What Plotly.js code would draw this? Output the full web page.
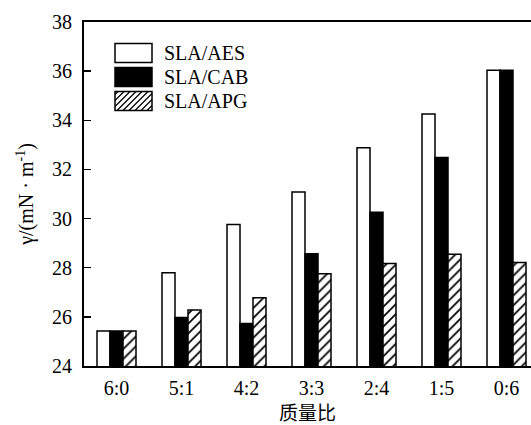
<!DOCTYPE html>
<html>
<head>
<meta charset="utf-8">
<script src="https://cdn.plot.ly/plotly-3.0.1.min.js"></script>
<style>html,body{margin:0;padding:0;background:#fff;}#chart{width:531px;height:425px;}</style>
</head>
<body>
<div id="chart"></div>
<script>
const categories = ['6:0', '5:1', '4:2', '3:3', '2:4', '1:5', '0:6'];
const seriesNames = ['SLA/AES', 'SLA/CAB', 'SLA/APG'];
const aes = [25.42, 27.8, 29.76, 31.08, 32.88, 34.26, 36.04];
const cab = [25.42, 25.97, 25.73, 28.57, 30.26, 32.49, 36.04];
const apg = [25.42, 26.28, 26.78, 27.75, 28.17, 28.55, 28.21];
const yTicks = [24, 26, 28, 30, 32, 34, 36, 38];

const serif = 'Liberation Serif, Times New Roman, serif';
const cjk = 'Noto Sans CJK SC, sans-serif';

const line = {color: '#000', width: 1.5};
const traces = [
  {type: 'bar', name: seriesNames[0], x: categories, y: aes,
   marker: {color: '#fff', line: line}},
  {type: 'bar', name: seriesNames[1], x: categories, y: cab,
   marker: {color: '#000', line: line}},
  {type: 'bar', name: seriesNames[2], x: categories, y: apg,
   marker: {color: '#fff', line: line,
     pattern: {shape: '/', fgcolor: '#000', bgcolor: '#fff', size: 7, solidity: 0.25}}}
];

// custom legend (pixel geometry of the plot area: x 84..531, y 22..366)
const L = 84, R = 531, T = 22, B = 366;
const px = x => (x - L) / (R - L);
const py = y => (B - y) / (B - T);
const boxX0 = 115, boxX1 = 152, boxH = 19;
const rowTops = [43.5, 67.5, 91.5];
const shapes = [];
const annotations = [];
const fills = ['#fff', '#000', '#fff'];
rowTops.forEach((top, i) => {
  shapes.push({type: 'rect', xref: 'paper', yref: 'paper',
    x0: px(boxX0), x1: px(boxX1), y0: py(top + boxH), y1: py(top),
    fillcolor: fills[i], line: {color: '#000', width: 1.5}});
  if (i === 2) {
    let path = '';
    const w = boxX1 - boxX0;
    for (let c = -boxH + 3; c < w; c += 6) {
      let t0 = Math.max(0, -c), t1 = Math.min(boxH, w - c);
      if (t1 <= t0) continue;
      const xa = boxX0 + c + t0, ya = top + boxH - t0;
      const xb = boxX0 + c + t1, yb = top + boxH - t1;
      path += `M${px(xa)},${py(ya)}L${px(xb)},${py(yb)}`;
    }
    shapes.push({type: 'path', xref: 'paper', yref: 'paper', path: path,
      line: {color: '#000', width: 1.2}});
  }
  annotations.push({xref: 'paper', yref: 'paper', x: px(162), y: py(top + boxH / 2),
    xanchor: 'left', yanchor: 'middle', showarrow: false, text: seriesNames[i],
    font: {family: serif, size: 20, color: '#000'}});
});

const layout = {
  width: 531, height: 425,
  margin: {l: L, r: 0, t: T, b: 425 - B},
  paper_bgcolor: '#fff', plot_bgcolor: '#fff',
  barmode: 'group', bargap: 0.4, bargroupgap: 0,
  showlegend: false,
  font: {family: serif, size: 20, color: '#000'},
  xaxis: {
    type: 'category', range: [-0.5, 6.377], autorange: false,
    showline: true, linecolor: '#000', linewidth: 2, mirror: true,
    ticks: '', showgrid: false, zeroline: false,
    tickfont: {family: serif, size: 20, color: '#000'},
    ticklabelstandoff: 3,
    title: {text: '质量比', font: {family: cjk, size: 19, color: '#000'}, standoff: 11}
  },
  yaxis: {
    range: [24, 38], autorange: false,
    tickvals: yTicks, ticktext: yTicks.map(String),
    showline: true, linecolor: '#000', linewidth: 2, mirror: false,
    ticks: 'inside', ticklen: 7, tickwidth: 1.5, tickcolor: '#000',
    showgrid: false, zeroline: false,
    tickfont: {family: serif, size: 20, color: '#000'},
    ticklabelstandoff: 6,
    title: {text: 'γ/(mN · m<sup>-1</sup>)', font: {family: serif, size: 20, color: '#000'}, standoff: 13}
  },
  shapes: shapes,
  annotations: annotations
};

Plotly.newPlot('chart', traces, layout, {staticPlot: true, displayModeBar: false});
</script>
</body>
</html>
